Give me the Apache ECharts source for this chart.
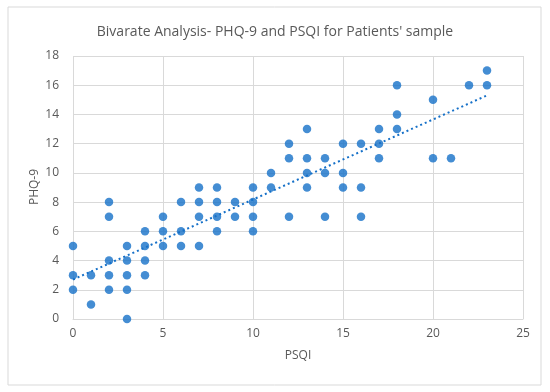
<!DOCTYPE html>
<html><head><meta charset="utf-8">
<script src="https://cdn.jsdelivr.net/npm/echarts@6/dist/echarts.min.js"></script>
<style>html,body{margin:0;padding:0;background:#fff}#c{width:550px;height:392px}</style>
</head><body><div id="c"></div>
<script>
const titleText = "Bivarate Analysis- PHQ-9 and PSQI for Patients' sample";
const xName = "PSQI";
const yName = "PHQ-9";
const psqi = [0,0,0,1,1,2,2,2,2,2,3,3,3,3,3,4,4,4,4,5,5,5,6,6,6,7,7,7,7,8,8,8,8,9,9,10,10,10,10,11,11,12,12,12,13,13,13,13,14,14,14,15,15,15,16,16,16,17,17,17,18,18,18,20,20,21,22,23,23];
const phq9 = [5,3,2,3,1,8,7,4,3,2,5,4,3,2,0,6,5,4,3,7,6,5,8,6,5,9,8,7,5,9,8,7,6,8,7,9,8,7,6,10,9,12,11,7,13,11,10,9,11,10,7,12,10,9,12,9,7,13,12,11,16,14,13,15,11,11,16,17,16];
const xTicks = {min:0, max:25, interval:5};
const yTicks = {min:0, max:18, interval:2};

const pts = psqi.map((x,i)=>[x, phq9[i]]);
// least squares trend line
const n = pts.length;
let sx=0, sy=0, sxx=0, sxy=0;
pts.forEach(([x,y])=>{sx+=x; sy+=y; sxx+=x*x; sxy+=x*y;});
const slope = (n*sxy - sx*sy)/(n*sxx - sx*sx);
const icpt = (sy - slope*sx)/n;
const xMin = Math.min(...psqi), xMax = Math.max(...psqi);
const trend = [[xMin, icpt+slope*xMin],[xMax, icpt+slope*xMax]];

const blue = '#1570c8';
const chart = echarts.init(document.getElementById('c'));
chart.setOption({
  animation:false,
  graphic:[
    {type:'rect', shape:{x:8,y:7,width:533,height:378}, style:{fill:'none', stroke:'#d9d9d9', lineWidth:1}},
    {type:'text', x:35, y:187, rotation:Math.PI/2, style:{text:yName, fontFamily:'Open Sans', fontSize:12, fill:'#595959', textAlign:'center', textVerticalAlign:'middle'}}
  ],
  title:{text:titleText, left:'center', top:20, textStyle:{fontFamily:'Open Sans', fontSize:14, fontWeight:'normal', color:'#595959'}},
  grid:{left:73, right:27, top:56, bottom:73},
  xAxis:{type:'value', min:xTicks.min, max:xTicks.max, interval:xTicks.interval,
    name:xName, nameLocation:'middle', nameGap:31,
    nameTextStyle:{fontFamily:'Open Sans', fontSize:12, color:'#595959'},
    axisLine:{show:true, lineStyle:{color:'#d9d9d9'}}, axisTick:{show:false},
    axisLabel:{fontFamily:'Open Sans', fontSize:12, color:'#595959', margin:9},
    splitLine:{show:true, lineStyle:{color:'#d9d9d9'}}},
  yAxis:{type:'value', min:yTicks.min, max:yTicks.max, interval:yTicks.interval,
    axisLine:{show:false}, axisTick:{show:false},
    axisLabel:{fontFamily:'Open Sans', fontSize:12, color:'#595959', margin:14},
    splitLine:{show:true, lineStyle:{color:'#d9d9d9'}}},
  series:[
    {type:'scatter', data:pts, symbolSize:8.5, itemStyle:{color:blue}, z:3},
    {type:'line', data:trend, symbol:'none', lineStyle:{color:blue, width:2, type:[2,3]}, z:2}
  ]
});
</script></body></html>
